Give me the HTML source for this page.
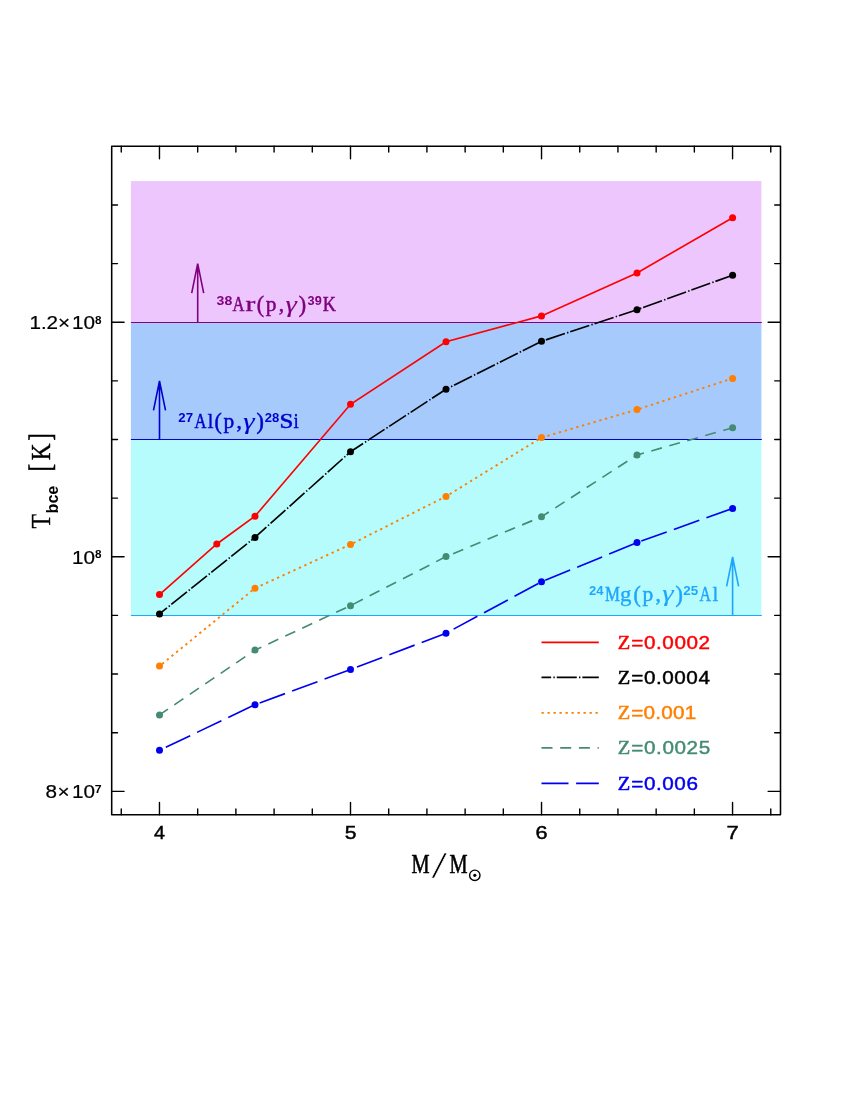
<!DOCTYPE html>
<html lang="en"><head><meta charset="utf-8"><title>Tbce vs M</title>
<style>html,body{margin:0;padding:0;background:#fff;overflow:hidden}svg{display:block;will-change:transform}text{font-family:"Liberation Sans",sans-serif}.s{font-family:"Liberation Serif",serif}.si{font-family:"Liberation Serif",serif;font-style:italic}.n{font-family:"Liberation Sans",sans-serif}.nb{font-family:"Liberation Sans",sans-serif;font-weight:bold}</style></head>
<body>
<svg width="850" height="1100" viewBox="0 0 850 1100">
<rect width="850" height="1100" fill="#fff"/>
<rect x="130.9" y="181.1" width="630.5" height="141.1" fill="#ecc6fc"/>
<rect x="130.9" y="322.2" width="630.5" height="117.3" fill="#a6cafc"/>
<rect x="130.9" y="439.5" width="630.5" height="175.9" fill="#b6fcfc"/>
<line x1="130.9" y1="322.45" x2="761.8" y2="322.45" stroke="#800080" stroke-width="1.1"/>
<line x1="130.9" y1="439.50" x2="761.8" y2="439.50" stroke="#0000cd" stroke-width="1.1"/>
<line x1="130.9" y1="615.55" x2="761.8" y2="615.55" stroke="#1ea5ff" stroke-width="1.1"/>
<path d="M197.7 322.2V263.6M191.7 293.1L197.7 263.6L203.7 293.1" fill="none" stroke="#800080" stroke-width="1.6" stroke-linejoin="miter"/>
<path d="M159.5 439.5V380.9M153.5 410.4L159.5 380.9L165.5 410.4" fill="none" stroke="#0000cd" stroke-width="1.6" stroke-linejoin="miter"/>
<path d="M732.6 615.4V556.8M726.6 586.3L732.6 556.8L738.6 586.3" fill="none" stroke="#1ea5ff" stroke-width="1.6" stroke-linejoin="miter"/>
<polyline points="159.5,594.6 216.8,544.0 255.0,516.2 350.5,404.3 446.0,341.8 541.5,315.9 637.0,273.0 732.6,217.7" fill="none" stroke="#ff0000" stroke-width="1.65"/>
<circle cx="159.5" cy="594.6" r="3.5" fill="#ff0000"/>
<circle cx="216.8" cy="544.0" r="3.5" fill="#ff0000"/>
<circle cx="255.0" cy="516.2" r="3.5" fill="#ff0000"/>
<circle cx="350.5" cy="404.3" r="3.5" fill="#ff0000"/>
<circle cx="446.0" cy="341.8" r="3.5" fill="#ff0000"/>
<circle cx="541.5" cy="315.9" r="3.5" fill="#ff0000"/>
<circle cx="637.0" cy="273.0" r="3.5" fill="#ff0000"/>
<circle cx="732.6" cy="217.7" r="3.5" fill="#ff0000"/>
<polyline points="159.5,613.9 255.0,537.4 350.5,451.7 446.0,389.2 541.5,341.3 637.0,309.7 732.6,275.2" fill="none" stroke="#000000" stroke-width="1.65" stroke-dasharray="20.05 2.23 1.42 1.92" stroke-dashoffset="10.5"/>
<circle cx="159.5" cy="613.9" r="3.5" fill="#000000"/>
<circle cx="255.0" cy="537.4" r="3.5" fill="#000000"/>
<circle cx="350.5" cy="451.7" r="3.5" fill="#000000"/>
<circle cx="446.0" cy="389.2" r="3.5" fill="#000000"/>
<circle cx="541.5" cy="341.3" r="3.5" fill="#000000"/>
<circle cx="637.0" cy="309.7" r="3.5" fill="#000000"/>
<circle cx="732.6" cy="275.2" r="3.5" fill="#000000"/>
<polyline points="159.5,666.1 255.0,588.2 350.5,544.5 446.0,496.4 541.5,437.6 637.0,409.6 732.6,378.4" fill="none" stroke="#ff7f00" stroke-width="1.9" stroke-dasharray="2.3 3.7" stroke-dashoffset="2.5"/>
<circle cx="159.5" cy="666.1" r="3.5" fill="#ff7f00"/>
<circle cx="255.0" cy="588.2" r="3.5" fill="#ff7f00"/>
<circle cx="350.5" cy="544.5" r="3.5" fill="#ff7f00"/>
<circle cx="446.0" cy="496.4" r="3.5" fill="#ff7f00"/>
<circle cx="541.5" cy="437.6" r="3.5" fill="#ff7f00"/>
<circle cx="637.0" cy="409.6" r="3.5" fill="#ff7f00"/>
<circle cx="732.6" cy="378.4" r="3.5" fill="#ff7f00"/>
<polyline points="159.5,714.9 255.0,650.1 350.5,605.7 446.0,556.6 541.5,516.8 637.0,455.0 732.6,427.8" fill="none" stroke="#458b74" stroke-width="1.65" stroke-dasharray="11 7.7" stroke-dashoffset="0.8"/>
<circle cx="159.5" cy="714.9" r="3.5" fill="#458b74"/>
<circle cx="255.0" cy="650.1" r="3.5" fill="#458b74"/>
<circle cx="350.5" cy="605.7" r="3.5" fill="#458b74"/>
<circle cx="446.0" cy="556.6" r="3.5" fill="#458b74"/>
<circle cx="541.5" cy="516.8" r="3.5" fill="#458b74"/>
<circle cx="637.0" cy="455.0" r="3.5" fill="#458b74"/>
<circle cx="732.6" cy="427.8" r="3.5" fill="#458b74"/>
<polyline points="159.5,750.3 255.0,704.7 350.5,669.5 446.0,633.2 541.5,581.8 637.0,542.6 732.6,508.4" fill="none" stroke="#0000f0" stroke-width="1.65" stroke-dasharray="27 7.6" stroke-dashoffset="27.6"/>
<circle cx="159.5" cy="750.3" r="3.5" fill="#0000f0"/>
<circle cx="255.0" cy="704.7" r="3.5" fill="#0000f0"/>
<circle cx="350.5" cy="669.5" r="3.5" fill="#0000f0"/>
<circle cx="446.0" cy="633.2" r="3.5" fill="#0000f0"/>
<circle cx="541.5" cy="581.8" r="3.5" fill="#0000f0"/>
<circle cx="637.0" cy="542.6" r="3.5" fill="#0000f0"/>
<circle cx="732.6" cy="508.4" r="3.5" fill="#0000f0"/>
<line x1="541.5" y1="642.3" x2="598.8" y2="642.3" stroke="#ff0000" stroke-width="1.65"/>
<text class="s" transform="translate(617.82,648.70) scale(1.044,1)" font-size="19.6" fill="#ff0000" stroke="#ff0000" stroke-width="0.55">Z</text>
<text class="n" transform="translate(631.29,648.70) scale(1.100,1)" font-size="18.8" letter-spacing="0.52" fill="#ff0000" stroke="#ff0000" stroke-width="0.45">=0.0002</text>
<line x1="541.5" y1="677.4" x2="598.8" y2="677.4" stroke="#000000" stroke-width="1.65" stroke-dasharray="20.05 2.23 1.42 1.92" stroke-dashoffset="10.4"/>
<text class="s" transform="translate(617.82,683.80) scale(1.044,1)" font-size="19.6" fill="#000000" stroke="#000000" stroke-width="0.55">Z</text>
<text class="n" transform="translate(631.29,683.80) scale(1.100,1)" font-size="18.8" letter-spacing="0.50" fill="#000000" stroke="#000000" stroke-width="0.45">=0.0004</text>
<line x1="541.5" y1="712.9" x2="598.8" y2="712.9" stroke="#ff7f00" stroke-width="1.9" stroke-dasharray="2.3 3.7" stroke-dashoffset="0"/>
<text class="s" transform="translate(617.82,719.30) scale(1.044,1)" font-size="19.6" fill="#ff7f00" stroke="#ff7f00" stroke-width="0.55">Z</text>
<text class="n" transform="translate(631.29,719.30) scale(1.100,1)" font-size="18.8" letter-spacing="0.23" fill="#ff7f00" stroke="#ff7f00" stroke-width="0.45">=0.001</text>
<line x1="541.5" y1="747.9" x2="598.8" y2="747.9" stroke="#458b74" stroke-width="1.65" stroke-dasharray="11 7.7" stroke-dashoffset="0"/>
<text class="s" transform="translate(617.82,754.30) scale(1.044,1)" font-size="19.6" fill="#458b74" stroke="#458b74" stroke-width="0.55">Z</text>
<text class="n" transform="translate(631.29,754.30) scale(1.100,1)" font-size="18.8" letter-spacing="0.54" fill="#458b74" stroke="#458b74" stroke-width="0.45">=0.0025</text>
<line x1="541.5" y1="783.4" x2="598.8" y2="783.4" stroke="#0000f0" stroke-width="1.65" stroke-dasharray="27 7.6" stroke-dashoffset="0"/>
<text class="s" transform="translate(617.82,789.80) scale(1.044,1)" font-size="19.6" fill="#0000f0" stroke="#0000f0" stroke-width="0.55">Z</text>
<text class="n" transform="translate(631.29,789.80) scale(1.100,1)" font-size="18.8" letter-spacing="0.51" fill="#0000f0" stroke="#0000f0" stroke-width="0.45">=0.006</text>
<rect x="111.7" y="146.3" width="668.8" height="668.5" fill="none" stroke="#000" stroke-width="1.55" stroke-linejoin="round"/>
<path d="M121.26 146.3v5.8M121.26 814.8v-5.8M159.47 146.3v12.4M159.47 814.8v-12.4M197.68 146.3v5.8M197.68 814.8v-5.8M235.88 146.3v5.8M235.88 814.8v-5.8M274.09 146.3v5.8M274.09 814.8v-5.8M312.29 146.3v5.8M312.29 814.8v-5.8M350.50 146.3v12.4M350.50 814.8v-12.4M388.71 146.3v5.8M388.71 814.8v-5.8M426.91 146.3v5.8M426.91 814.8v-5.8M465.12 146.3v5.8M465.12 814.8v-5.8M503.32 146.3v5.8M503.32 814.8v-5.8M541.53 146.3v12.4M541.53 814.8v-12.4M579.74 146.3v5.8M579.74 814.8v-5.8M617.94 146.3v5.8M617.94 814.8v-5.8M656.15 146.3v5.8M656.15 814.8v-5.8M694.35 146.3v5.8M694.35 814.8v-5.8M732.56 146.3v12.4M732.56 814.8v-12.4M770.77 146.3v5.8M770.77 814.8v-5.8M111.7 791.34h12.4M780.5 791.34h-12.4M111.7 732.70h5.8M780.5 732.70h-5.8M111.7 674.06h5.8M780.5 674.06h-5.8M111.7 615.42h5.8M780.5 615.42h-5.8M111.7 556.78h12.4M780.5 556.78h-12.4M111.7 498.14h5.8M780.5 498.14h-5.8M111.7 439.50h5.8M780.5 439.50h-5.8M111.7 380.86h5.8M780.5 380.86h-5.8M111.7 322.22h12.4M780.5 322.22h-12.4M111.7 263.58h5.8M780.5 263.58h-5.8M111.7 204.94h5.8M780.5 204.94h-5.8" stroke="#000" stroke-width="1.4" stroke-linecap="round" fill="none"/>
<text class="n" transform="translate(154.01,838.60) scale(1.044,1)" font-size="19.0" stroke="#000" stroke-width="0.45">4</text>
<text class="n" transform="translate(344.66,838.60) scale(1.110,1)" font-size="19.0" stroke="#000" stroke-width="0.45">5</text>
<text class="n" transform="translate(535.43,838.60) scale(1.141,1)" font-size="19.0" stroke="#000" stroke-width="0.45">6</text>
<text class="n" transform="translate(726.43,838.60) scale(1.158,1)" font-size="19.0" stroke="#000" stroke-width="0.45">7</text>
<text class="n" transform="translate(29.52,329.32) scale(1.100,1)" font-size="18.8" letter-spacing="-0.10" stroke="#000" stroke-width="0.2">1.2×</text>
<text class="n" transform="translate(71.92,329.32) scale(1.100,1)" font-size="18.8" letter-spacing="0.16" stroke="#000" stroke-width="0.2">10</text>
<text class="nb" transform="translate(94.93,323.82) scale(0.996,1)" font-size="11.8">8</text>
<text class="n" transform="translate(71.92,563.88) scale(1.100,1)" font-size="18.8" letter-spacing="0.16" stroke="#000" stroke-width="0.2">10</text>
<text class="nb" transform="translate(94.93,558.38) scale(0.996,1)" font-size="11.8">8</text>
<text class="n" transform="translate(45.60,798.44) scale(1.100,1)" font-size="18.8" letter-spacing="0.40" stroke="#000" stroke-width="0.2">8×</text>
<text class="n" transform="translate(71.92,798.44) scale(1.100,1)" font-size="18.8" letter-spacing="0.16" stroke="#000" stroke-width="0.2">10</text>
<text class="nb" transform="translate(94.77,792.94) scale(1.047,1)" font-size="11.8">7</text>
<text class="nb" transform="translate(216.58,304.80) scale(1.117,1)" font-size="12.6" fill="#800080">38</text>
<text class="s" transform="translate(232.44,311.10) scale(0.775,1)" font-size="21.4" fill="#800080" stroke="#800080" stroke-width="0.5">A</text>
<text class="s" transform="translate(245.61,311.10) scale(1.383,1)" font-size="21.4" fill="#800080" stroke="#800080" stroke-width="0.3">r</text>
<text class="s" transform="translate(256.74,311.70) scale(1.019,1.090)" font-size="21.4" fill="#800080" stroke="#800080" stroke-width="0.5">(</text>
<text class="s" transform="translate(265.76,311.10) scale(1.000,1)" font-size="21.4" letter-spacing="2.24" fill="#800080" stroke="#800080" stroke-width="0.48">p,</text>
<text class="si" transform="translate(285.48,311.60) scale(1.339,1.050)" font-size="21.4" fill="#800080" stroke="#800080" stroke-width="0.12">γ</text>
<text class="s" transform="translate(298.78,311.70) scale(1.037,1.090)" font-size="21.4" fill="#800080" stroke="#800080" stroke-width="0.5">)</text>
<text class="nb" transform="translate(307.61,304.80) scale(1.011,1)" font-size="12.6" fill="#800080">39</text>
<text class="s" transform="translate(322.67,311.10) scale(0.855,1)" font-size="21.4" fill="#800080" stroke="#800080" stroke-width="0.5">K</text>
<text class="nb" transform="translate(178.34,421.80) scale(1.052,1)" font-size="12.6" fill="#0000cd">27</text>
<text class="s" transform="translate(194.44,428.10) scale(0.775,1)" font-size="21.4" fill="#0000cd" stroke="#0000cd" stroke-width="0.5">A</text>
<text class="s" transform="translate(207.46,428.10) scale(1.022,1)" font-size="21.4" fill="#0000cd" stroke="#0000cd" stroke-width="0.3">l</text>
<text class="s" transform="translate(214.44,428.70) scale(1.019,1.090)" font-size="21.4" fill="#0000cd" stroke="#0000cd" stroke-width="0.5">(</text>
<text class="s" transform="translate(223.46,428.10) scale(1.000,1)" font-size="21.4" letter-spacing="2.24" fill="#0000cd" stroke="#0000cd" stroke-width="0.48">p,</text>
<text class="si" transform="translate(243.18,428.60) scale(1.339,1.050)" font-size="21.4" fill="#0000cd" stroke="#0000cd" stroke-width="0.12">γ</text>
<text class="s" transform="translate(256.48,428.70) scale(1.037,1.090)" font-size="21.4" fill="#0000cd" stroke="#0000cd" stroke-width="0.5">)</text>
<text class="nb" transform="translate(264.65,421.80) scale(1.039,1)" font-size="12.6" fill="#0000cd">28</text>
<text class="s" transform="translate(279.42,428.10) scale(1.170,1)" font-size="21.4" fill="#0000cd" stroke="#0000cd" stroke-width="0.5">S</text>
<text class="s" transform="translate(293.50,428.10) scale(0.884,1)" font-size="21.4" fill="#0000cd" stroke="#0000cd" stroke-width="0.35">i</text>
<text class="nb" transform="translate(589.05,594.60) scale(1.036,1)" font-size="12.6" fill="#1ea5ff">24</text>
<text class="s" transform="translate(605.11,600.90) scale(0.787,1)" font-size="21.4" fill="#1ea5ff" stroke="#1ea5ff" stroke-width="0.5">M</text>
<text class="s" transform="translate(620.12,600.90) scale(1.067,1)" font-size="21.4" fill="#1ea5ff" stroke="#1ea5ff" stroke-width="0.3">g</text>
<text class="s" transform="translate(633.54,601.50) scale(1.019,1.090)" font-size="21.4" fill="#1ea5ff" stroke="#1ea5ff" stroke-width="0.5">(</text>
<text class="s" transform="translate(642.56,600.90) scale(1.000,1)" font-size="21.4" letter-spacing="2.24" fill="#1ea5ff" stroke="#1ea5ff" stroke-width="0.48">p,</text>
<text class="si" transform="translate(662.28,601.40) scale(1.339,1.050)" font-size="21.4" fill="#1ea5ff" stroke="#1ea5ff" stroke-width="0.12">γ</text>
<text class="s" transform="translate(675.58,601.50) scale(1.037,1.090)" font-size="21.4" fill="#1ea5ff" stroke="#1ea5ff" stroke-width="0.5">)</text>
<text class="nb" transform="translate(683.33,594.60) scale(1.066,1)" font-size="12.6" fill="#1ea5ff">25</text>
<text class="s" transform="translate(699.54,600.90) scale(0.742,1)" font-size="21.4" fill="#1ea5ff" stroke="#1ea5ff" stroke-width="0.5">A</text>
<text class="s" transform="translate(712.48,600.90) scale(0.983,1)" font-size="21.4" fill="#1ea5ff" stroke="#1ea5ff" stroke-width="0.35">l</text>
<text class="s" transform="translate(411.51,873.30) scale(0.729,1)" font-size="27.9" stroke="#000" stroke-width="0.6">M</text>
<text class="s" transform="translate(431.60,877.50) scale(2.000,1.385)" font-size="27.9" stroke="#fff" stroke-width="0.35">/</text>
<text class="s" transform="translate(449.41,873.30) scale(0.729,1)" font-size="27.9" stroke="#000" stroke-width="0.6">M</text>
<circle cx="474.8" cy="875.3" r="5.2" fill="none" stroke="#000" stroke-width="1.4"/><circle cx="474.8" cy="875.3" r="1.6" fill="#000"/>
<g transform="translate(49.9,528) rotate(-90)">
<text class="s" transform="translate(-0.43,0.00) scale(0.852,1)" font-size="27.9" stroke="#000" stroke-width="0.4">T</text>
<text class="nb" transform="translate(14.54,7.90) scale(1.035,1)" font-size="15.6">bce</text>
<text class="s" transform="translate(56.60,1.00) scale(0.703,1)" font-size="32.6" stroke="#000" stroke-width="0.5">[</text>
<text class="s" transform="translate(67.63,0.00) scale(0.829,1)" font-size="27.9" stroke="#000" stroke-width="0.45">K</text>
<text class="s" transform="translate(87.19,1.00) scale(0.689,1)" font-size="32.6" stroke="#000" stroke-width="0.5">]</text>
</g>
</svg>
</body></html>
